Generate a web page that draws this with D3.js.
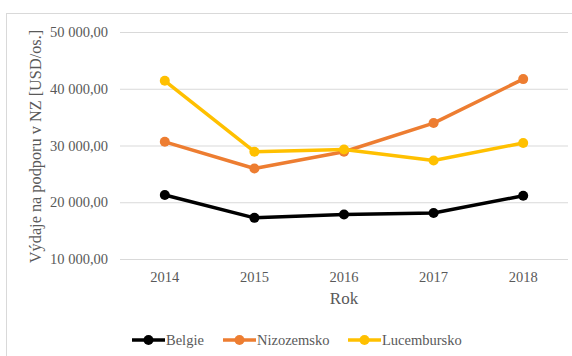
<!DOCTYPE html>
<html>
<head>
<meta charset="utf-8">
<script src="https://cdn.jsdelivr.net/npm/d3@7"></script>
<style>
  html, body { margin: 0; padding: 0; background: #fff; }
  svg { display: block; }
</style>
</head>
<body>
<svg id="chart" width="572" height="356"></svg>
<script>
// Spending per person on support in the Benelux countries, 2014–2018
const years = ["2014", "2015", "2016", "2017", "2018"];
const belgie = [21270, 17250, 17850, 18100, 21150];
const nizozemsko = [30650, 25950, 28900, 33950, 41700];
const lucembursko = [41400, 28900, 29300, 27350, 30450];
const yTicks = [10000, 20000, 30000, 40000, 50000];
const seriesNames = ["Belgie", "Nizozemsko", "Lucembursko"];
const seriesColors = ["#000000", "#ed7d31", "#ffc000"];

const series = [belgie, nizozemsko, lucembursko].map((values, i) => ({
  name: seriesNames[i], color: seriesColors[i],
  points: values.map((v, j) => ({ year: years[j], value: v }))
}));

const svg = d3.select("#chart");
const font = "'Liberation Serif', 'Times New Roman', serif";
const textColor = "#595959";

// outer frame
svg.append("rect")
  .attr("x", 6.5).attr("y", 13.5).attr("width", 572).attr("height", 356)
  .attr("fill", "none").attr("stroke", "#d9d9d9").attr("stroke-width", 1);

const plot = { left: 120, right: 568, top: 32, bottom: 259 };

const x = d3.scaleBand().domain(years).range([plot.left, plot.right]);
const y = d3.scaleLinear().domain([10000, 50000]).range([plot.bottom, plot.top]);

const fmt = v => d3.format(",.2f")(v).replace(/,/g, " ").replace(".", ",");

// horizontal gridlines with value labels
const yAxis = d3.axisLeft(y).tickValues(yTicks).tickFormat(fmt)
  .tickSize(-(plot.right - plot.left)).tickPadding(12);
const gy = svg.append("g").attr("transform", `translate(${plot.left},0)`).call(yAxis);
gy.select(".domain").remove();
gy.selectAll(".tick line").attr("stroke", "#d9d9d9").attr("stroke-width", 1);
gy.selectAll(".tick text").attr("fill", textColor)
  .style("font-family", font).style("font-size", "14.5px");

// year labels
const xAxis = d3.axisBottom(x).tickSize(0).tickPadding(13);
const gx = svg.append("g").attr("transform", `translate(0,${plot.bottom})`).call(xAxis);
gx.select(".domain").remove();
gx.selectAll(".tick text").attr("fill", textColor)
  .style("font-family", font).style("font-size", "14.5px");

// axis titles
svg.append("text")
  .attr("x", (plot.left + plot.right) / 2).attr("y", 304)
  .attr("text-anchor", "middle").attr("fill", textColor)
  .style("font-family", font).style("font-size", "17px").text("Rok");

svg.append("text")
  .attr("transform", `translate(41,${(plot.top + plot.bottom) / 2 + 1}) rotate(-90)`)
  .attr("text-anchor", "middle").attr("fill", textColor)
  .style("font-family", font).style("font-size", "16.3px")
  .text("Výdaje na podporu v NZ [USD/os.]");

// series lines and markers
const line = d3.line()
  .x(d => x(d.year) + x.bandwidth() / 2)
  .y(d => y(d.value));

series.forEach(s => {
  const g = svg.append("g");
  g.append("path").datum(s.points)
    .attr("d", line).attr("fill", "none")
    .attr("stroke", s.color).attr("stroke-width", 3.5)
    .attr("stroke-linejoin", "round").attr("stroke-linecap", "round");
  g.selectAll("circle").data(s.points).join("circle")
    .attr("cx", d => x(d.year) + x.bandwidth() / 2)
    .attr("cy", d => y(d.value))
    .attr("r", 5).attr("fill", s.color);
});

// legend
const legendX = [132, 223, 348];
const legendY = 340;
series.forEach((s, i) => {
  const g = svg.append("g").attr("transform", `translate(${legendX[i]},${legendY})`);
  g.append("line").attr("x1", 0).attr("x2", 33).attr("y1", 0).attr("y2", 0)
    .attr("stroke", s.color).attr("stroke-width", 3.5);
  g.append("circle").attr("cx", 16.5).attr("cy", 0).attr("r", 5).attr("fill", s.color);
  g.append("text").attr("x", 34).attr("y", 0).attr("dy", "0.35em")
    .attr("fill", textColor).style("font-family", font).style("font-size", "14.5px")
    .text(s.name);
});
</script>
</body>
</html>
